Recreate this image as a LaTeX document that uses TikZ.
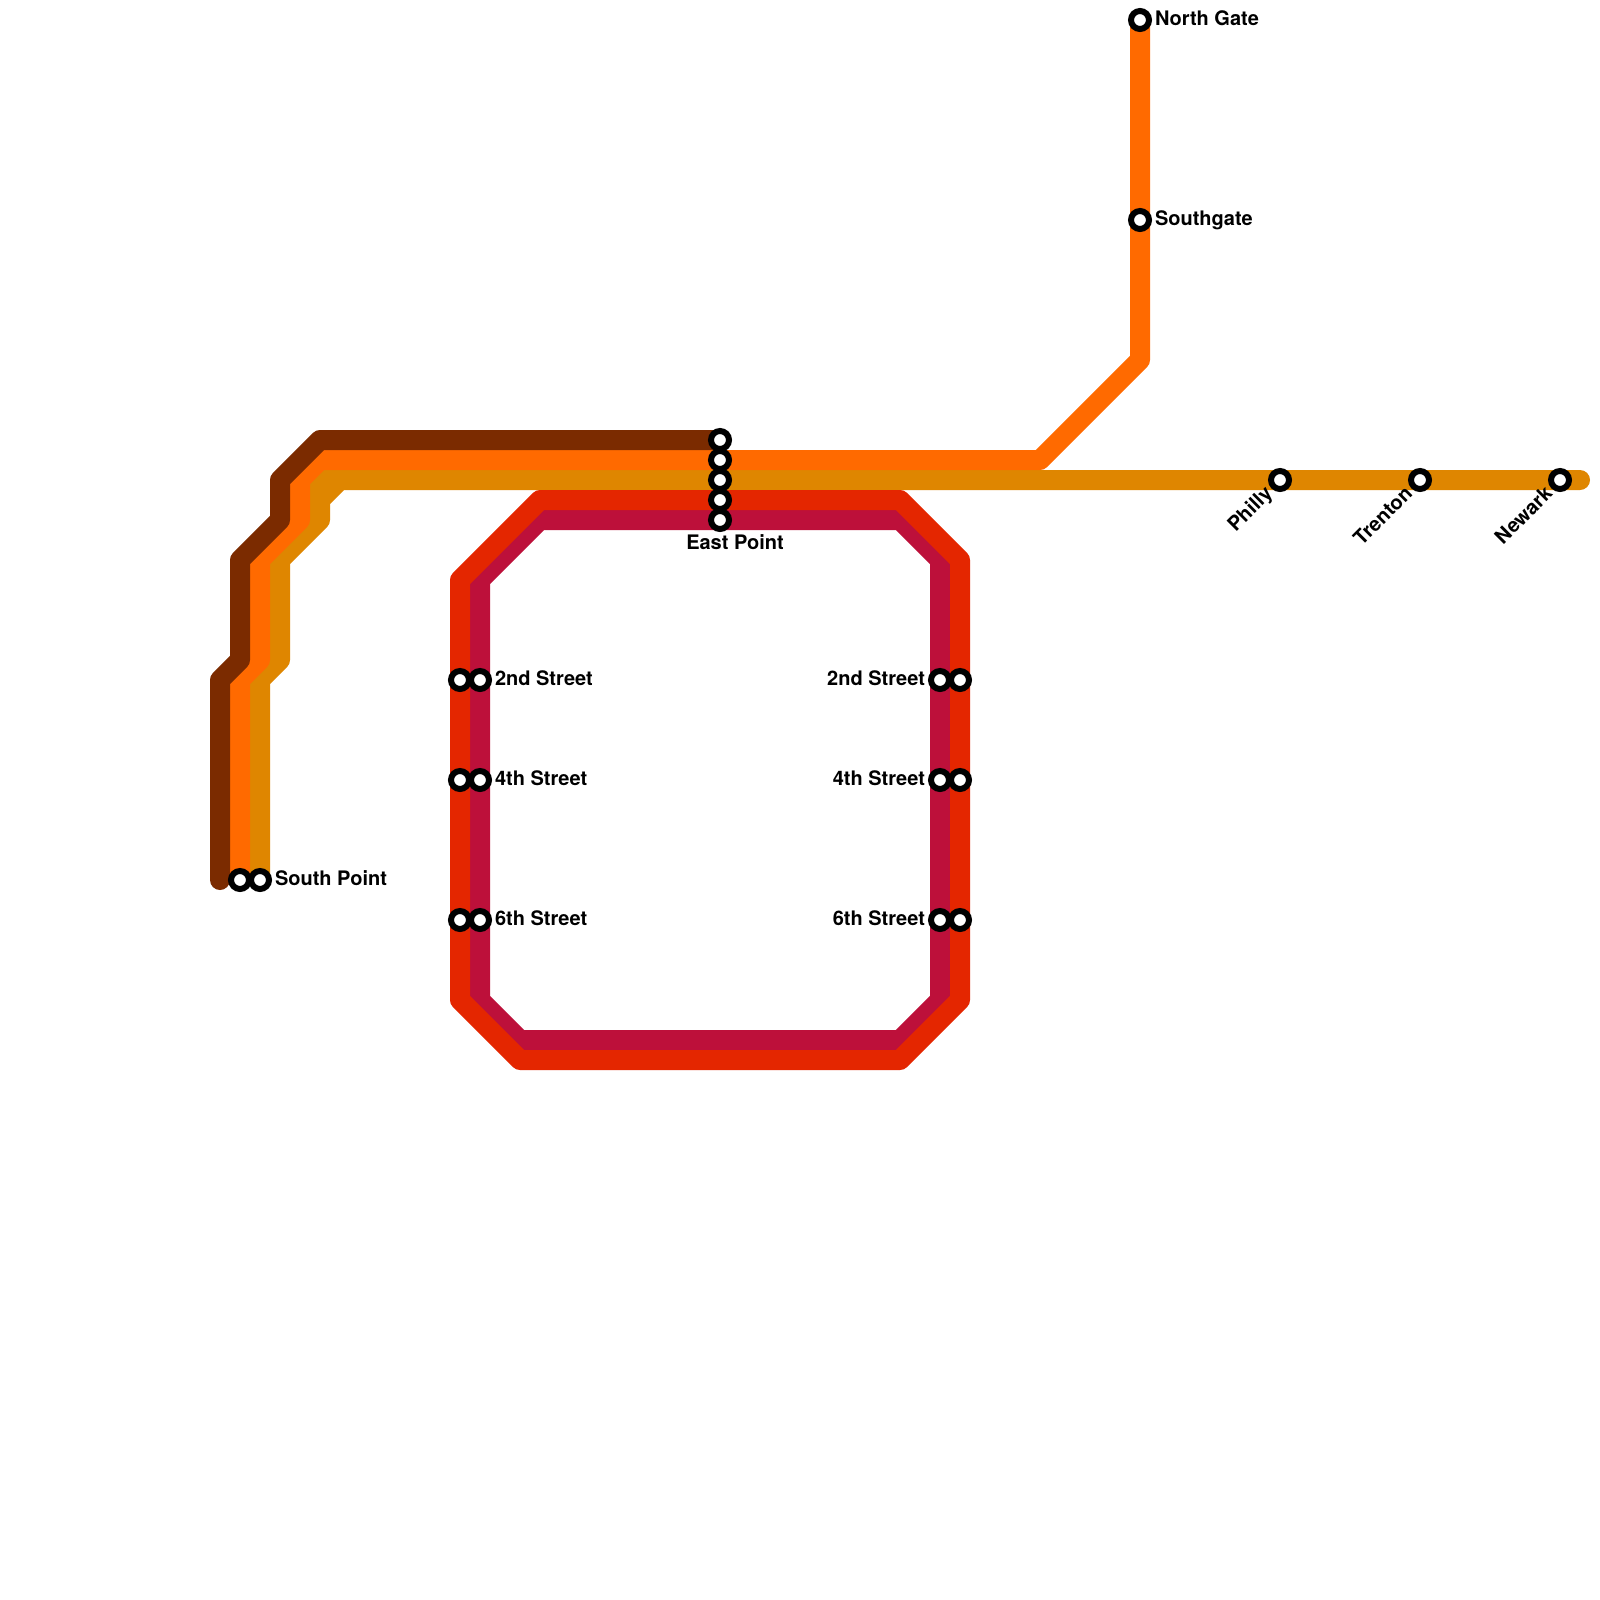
\documentclass[tikz,border=0pt]{standalone}
\usepackage{fontspec}
\setmainfont{TeX Gyre Heros}
\definecolor{cbrown}{HTML}{7B2B00}
\definecolor{corange}{HTML}{FF6A00}
\definecolor{cochre}{HTML}{DF8600}
\definecolor{cred}{HTML}{E42600}
\definecolor{ccrimson}{HTML}{BD103A}
\tikzset{
  metro/.style={line width=15pt,line join=round,line cap=round},
  stn/.style={circle,draw=black,fill=white,line width=4.5pt,minimum size=13.5pt,inner sep=0pt,outer sep=0pt},
  lbl/.style={font=\bfseries\fontsize{15pt}{17pt}\selectfont,text=black,inner sep=0pt,outer sep=0pt},
  lblw/.style={lbl,anchor=base west},
  lble/.style={lbl,anchor=base east},
  lblr/.style={lbl,anchor=base east,rotate=45},
}
\begin{document}
\begin{tikzpicture}[x=0.75pt,y=-0.75pt]
\useasboundingbox (0,0) rectangle (1600,1600);
\fill[white] (0,0) rectangle (1600,1600);
% line termini
\coordinate (northgate) at (1140,20);
\coordinate (southA) at (220,880);
\coordinate (southB) at (240,880);
\coordinate (southC) at (260,880);
\coordinate (eastA) at (720,440);
\coordinate (lineEnd) at (1580,480);
% lines
\fill[cochre] (310,505) -- (310,470) -- (345,470) -- cycle;
\draw[metro,cochre] (southC) -- (260,680) -- (280,660) -- (280,560) -- (320,520) -- (320,500) -- (340,480) -- (lineEnd);
\draw[metro,corange] (southB) -- (240,680) -- (260,660) -- (260,560) -- (300,520) -- (300,480) -- (320,460) -- (1040,460) -- (1140,360) -- (northgate);
\draw[metro,cbrown] (southA) -- (220,680) -- (240,660) -- (240,560) -- (280,520) -- (280,480) -- (320,440) -- (eastA);
\draw[metro,ccrimson] (480,580) -- (540,520) -- (900,520) -- (940,560) -- (940,1000) -- (900,1040) -- (520,1040) -- (480,1000) -- cycle;
\draw[metro,cred] (460,580) -- (540,500) -- (900,500) -- (960,560) -- (960,1000) -- (900,1060) -- (520,1060) -- (460,1000) -- cycle;
% stations
\node[stn] (ng) at (northgate) {};
\node[stn] (sg) at (1140,220) {};
\node[stn] (ph) at (1280,480) {};
\node[stn] (tr) at (1420,480) {};
\node[stn] (nw) at (1560,480) {};
\node[stn] (sp1) at (southB) {};
\node[stn] (sp2) at (southC) {};
\node[stn] (ep1) at (720,440) {};
\node[stn] (ep2) at (720,460) {};
\node[stn] (ep3) at (720,480) {};
\node[stn] (ep4) at (720,500) {};
\node[stn] (ep5) at (720,520) {};
\node[stn] (la2) at (460,680) {};
\node[stn] (lb2) at (480,680) {};
\node[stn] (la4) at (460,780) {};
\node[stn] (lb4) at (480,780) {};
\node[stn] (la6) at (460,920) {};
\node[stn] (lb6) at (480,920) {};
\node[stn] (ra2) at (940,680) {};
\node[stn] (rb2) at (960,680) {};
\node[stn] (ra4) at (940,780) {};
\node[stn] (rb4) at (960,780) {};
\node[stn] (ra6) at (940,920) {};
\node[stn] (rb6) at (960,920) {};
% labels
\node[lblw] (tng) at (1155,25) {North Gate};
\node[lblw] (tsg) at (1155,225) {Southgate};
\node[lblw] (tsp) at (275,885) {South Point};
\node[lbl,anchor=base] (tep) at (735,549) {East Point};
\node[lblw] (tl2) at (495,685) {2nd Street};
\node[lblw] (tl4) at (495,785) {4th Street};
\node[lblw] (tl6) at (495,925) {6th Street};
\node[lble] (tr2) at (925,685) {2nd Street};
\node[lble] (tr4) at (925,785) {4th Street};
\node[lble] (tr6) at (925,925) {6th Street};
\node[lblr] (tph) at (1273.5,495) {Philly};
\node[lblr] (ttr) at (1413.5,495) {Trenton};
\node[lblr] (tnw) at (1553.5,495) {Newark};
\end{tikzpicture}
\end{document}
